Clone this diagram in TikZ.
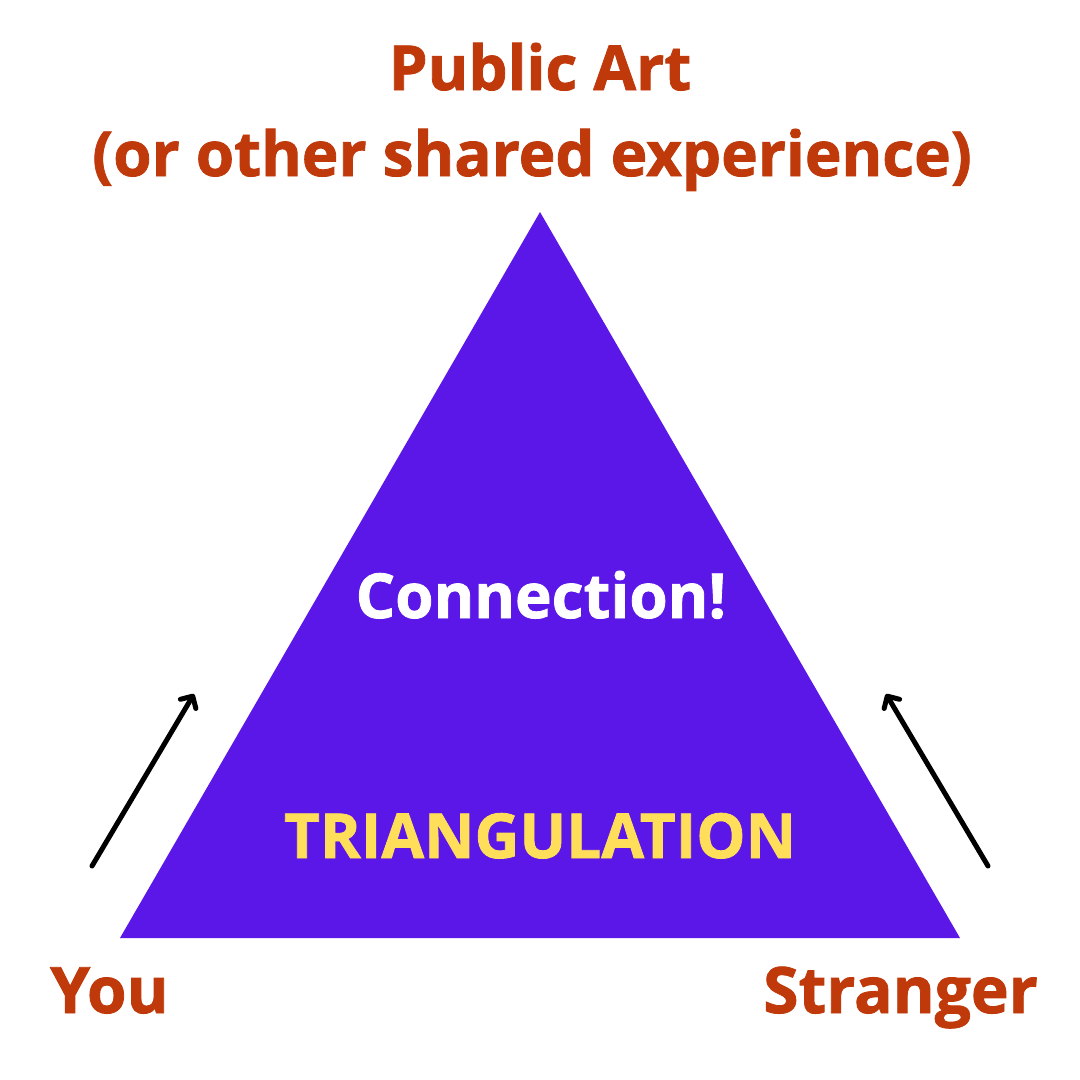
\documentclass[tikz,border=0pt]{standalone}
\usepackage{fontspec}
\setmainfont{Open Sans}[BoldFont={* Bold}, BoldFeatures={FakeBold=1.3}]
\usetikzlibrary{arrows.meta}
\definecolor{tri}{HTML}{5B17E8}
\definecolor{rust}{HTML}{C0390B}
\definecolor{gold}{HTML}{FFDE59}
\tikzset{
  lab/.style={font=\bfseries\fontsize{62}{72}\selectfont, text=rust, inner sep=0pt, anchor=base},
  inlab/.style={font=\bfseries\fontsize{62}{72}\selectfont, inner sep=0pt, anchor=base},
  arr/.style={line width=5pt, line cap=round, -{Straight Barb[length=9pt,width=18pt,line width=5pt,round]}}
}
\begin{document}
\begin{tikzpicture}[x=1pt,y=-1pt]
\useasboundingbox (0,0) rectangle (1080,1080);
\fill[white] (0,0) rectangle (1080,1080);
\fill[tri] (540,212) -- (120,938) -- (960,938) -- cycle;
\node[lab] (title1) at (540,90) {Public Art};
\node[lab] (title2) at (532,176) {(or other shared experience)};
\node[inlab, text=white] (conn) at (541,618) {Connection!};
\node[inlab, text=gold] (tri) at (540,858) {TRIANGULATION};
\node[lab, anchor=base west, font=\bfseries\fontsize{64}{72}\selectfont] (you) at (50,1013) {You};
\node[lab, anchor=base east, font=\bfseries\fontsize{64}{72}\selectfont] (str) at (1038,1013) {Stranger};
\coordinate (a1s) at (92,866);
\coordinate (a1e) at (194,694);
\coordinate (a2s) at (988,866);
\coordinate (a2e) at (886,694);
\draw[arr] (a1s) -- (a1e);
\draw[arr] (a2s) -- (a2e);
\end{tikzpicture}
\end{document}
